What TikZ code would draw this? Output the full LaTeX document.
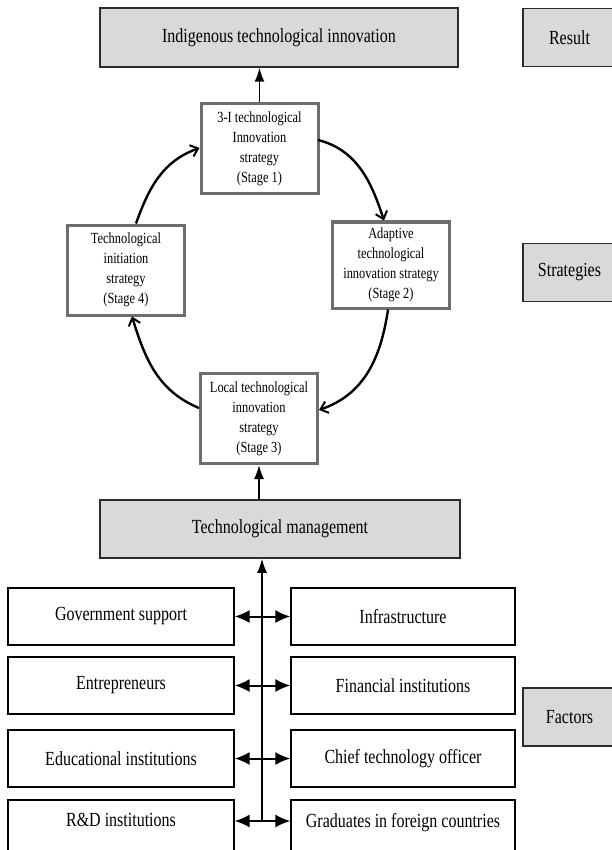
\documentclass[tikz,border=0pt]{standalone}
\usepackage{fontspec}
\setmainfont{Liberation Serif}[FakeStretch=0.8]
\usetikzlibrary{arrows.meta}
\definecolor{boxgray}{HTML}{D9D9D9}
\definecolor{stageedge}{HTML}{6E6E6E}
\definecolor{darkedge}{HTML}{2B2B2B}
\begin{document}
\begin{tikzpicture}[x=1pt,y=-1pt,
  bigfont/.style={font=\fontsize{20}{24}\selectfont},
  stagefont/.style={font=\fontsize{15.5}{20}\selectfont},
  headbox/.style={draw=darkedge, line width=1.5pt, fill=boxgray, inner sep=0pt, bigfont},
  sidebox/.style={draw=darkedge, line width=1.2pt, fill=boxgray, inner sep=0pt, bigfont, minimum width=93pt, minimum height=58pt},
  stagebox/.style={draw=stageedge, line width=3pt, fill=white, inner sep=0pt, stagefont, align=center, minimum width=117pt},
  factbox/.style={draw=black, line width=1.2pt, fill=white, inner sep=0pt, bigfont, minimum height=57pt},
  cyc/.style={line width=2.4pt, -{Straight Barb[length=7pt,width=12pt,line width=2pt]}},
  up/.style={line width=1.6pt, -{Latex[length=14pt,width=10pt]}},
  both/.style={line width=2pt, {Latex[length=15pt,width=13pt]}-{Latex[length=15pt,width=13pt]}}
]
\clip (0,0) rectangle (612,850);
\fill[white] (0,0) rectangle (612,850);

% result / header boxes
\node[headbox, minimum width=358pt, minimum height=59pt] (top) at (279,37.5) {Indigenous technological innovation};
\node[headbox, minimum width=360pt, minimum height=58pt] (tm) at (280,529) {Technological management};

% side labels
\node[sidebox] (res) at (569.5,37.5) {Result};
\node[sidebox] (str) at (569.5,272.5) {Strategies};
\node[sidebox] (fac) at (569.5,717) {Factors};

% stages
\node[stagebox, minimum height=90pt] (s1) at (259.5,149) {3-I technological\\Innovation\\strategy\\(Stage 1)};
\node[stagebox, minimum height=86pt] (s2) at (391,265) {Adaptive\\technological\\innovation strategy\\(Stage 2)};
\node[stagebox, minimum height=90pt] (s3) at (259,418.5) {Local technological\\innovation\\strategy\\(Stage 3)};
\node[stagebox, minimum height=90pt] (s4) at (126,270) {Technological\\initiation\\strategy\\(Stage 4)};

% cycle arrows
\draw[cyc] (318,140) .. controls (358,150) and (372,184) .. (s2.north -| 384,0);
\draw[cyc] (s2.south -| 388,0) .. controls (381,357) and (365,394) .. (s3.east |- 0,410);
\draw[cyc] (s3.west |- 0,408) .. controls (158,391) and (145,359) .. (s4.south -| 132,0);
\draw[cyc] (s4.north -| 136,0) .. controls (149,187) and (163,161) .. (s1.west |- 0,148);

% vertical arrows
\draw[up] (s1.north) -- (s1.north |- top.south);
\draw[up] (s3.south |- tm.north) -- (s3.south);

% factors
\node[factbox, minimum width=226pt] (l1) at (121,616.5) {Government support};
\node[factbox, minimum width=224pt] (r1) at (403,616.5) {Infrastructure};
\node[factbox, minimum width=226pt] (l2) at (121,685.5) {Entrepreneurs};
\node[factbox, minimum width=224pt] (r2) at (403,685.5) {Financial institutions};
\node[factbox, minimum width=226pt] (l3) at (121,758.5) {Educational institutions};
\node[factbox, minimum width=224pt] (r3) at (403,758.5) {Chief technology officer};
\node[factbox, minimum width=226pt, minimum height=60pt, text depth=20pt] (l4) at (121,830) {R\&D institutions};
\node[factbox, minimum width=224pt, minimum height=60pt, text depth=20pt] (r4) at (403,830) {Graduates in foreign countries};

\coordinate (vb) at (262,821);
\draw[up] (vb) -- (vb |- tm.south);
\draw[both] (l1.east) -- (r1.west);
\draw[both] (l2.east) -- (r2.west);
\draw[both] (l3.east) -- (r3.west);
\draw[both] (l4.east |- vb) -- (r4.west |- vb);
\end{tikzpicture}
\end{document}
